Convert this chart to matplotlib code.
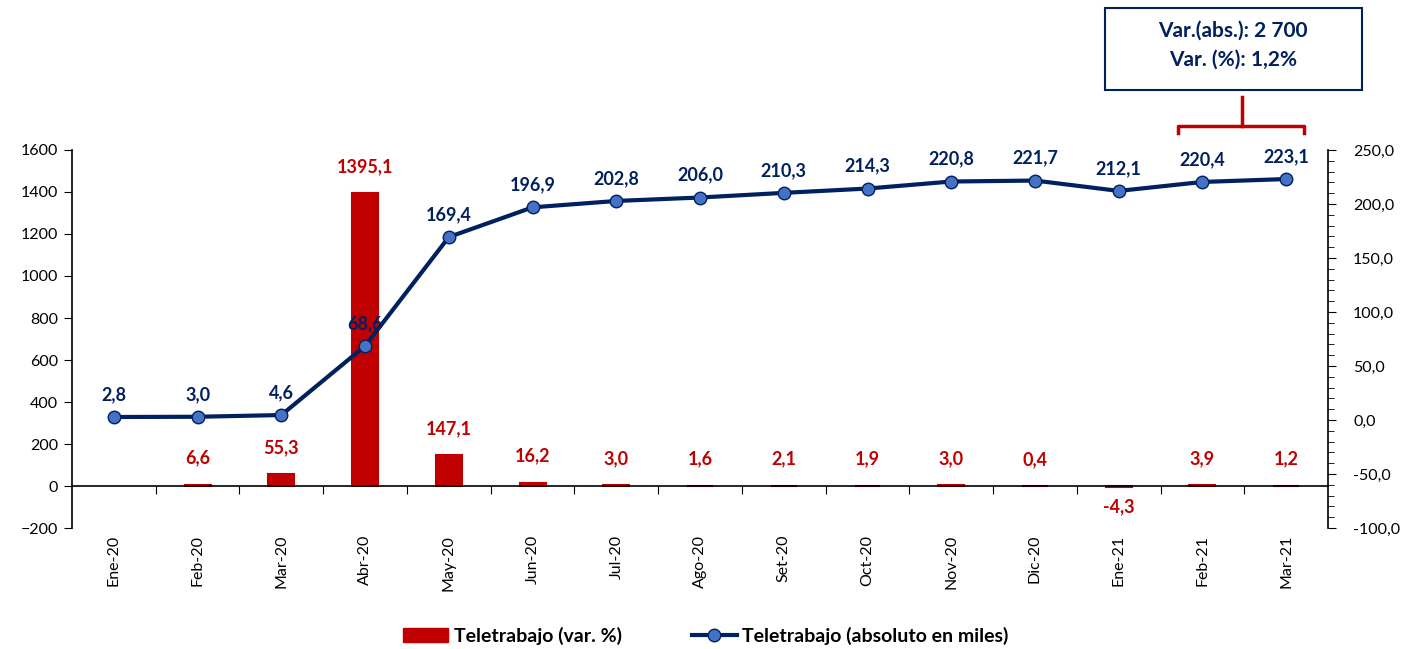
import matplotlib.pyplot as plt
import numpy as np
from matplotlib.lines import Line2D
from matplotlib.patches import Rectangle

plt.rcParams['font.family'] = ['Lato', 'DejaVu Sans']

months = ["Ene-20", "Feb-20", "Mar-20", "Abr-20", "May-20", "Jun-20", "Jul-20", "Ago-20",
          "Set-20", "Oct-20", "Nov-20", "Dic-20", "Ene-21", "Feb-21", "Mar-21"]
var_pct = [np.nan, 6.6, 55.3, 1395.1, 147.1, 16.2, 3.0, 1.6, 2.1, 1.9, 3.0, 0.4, -4.3, 3.9, 1.2]
abs_miles = [2.8, 3.0, 4.6, 68.6, 169.4, 196.9, 202.8, 206.0, 210.3, 214.3, 220.8, 221.7, 212.1, 220.4, 223.1]

red = "#C00000"
navy = "#002060"
blue = "#4472C4"

def fmt(v):
    return f"{v:.1f}".replace(".", ",")

fig = plt.figure(figsize=(14.04, 6.49), dpi=100)
ax = fig.add_axes([0.0513, 0.1864, 0.8946, 0.5825])
ax2 = ax.twinx()

x = np.arange(len(months))
ax.bar(x, var_pct, width=0.31, color=red, edgecolor=red, linewidth=1.5, zorder=2)
ax.set_xlim(-0.5, len(months) - 0.5)
ax.set_ylim(-200, 1600)
ax.set_yticks(range(-200, 1601, 200))
ax.tick_params(axis='y', direction='out', length=6, labelsize=11.5, pad=4)

for spine in ["top", "right"]:
    ax.spines[spine].set_visible(False)
ax.spines["bottom"].set_position(("data", 0))
ax.spines["left"].set_linewidth(1.2)
ax.spines["bottom"].set_linewidth(1.2)

# ticks between categories, labels at centers
ax.set_xticks(x[:-1] + 0.5)
ax.set_xticklabels([])
ax.tick_params(axis='x', which='major', direction='out', length=6)
ax.set_xticks(x, minor=True)
ax.set_xticklabels(months, minor=True, rotation=90, fontsize=11.5, va='top')
ax.tick_params(axis='x', which='minor', length=0, pad=35)

for xi, v in zip(x, var_pct):
    if np.isnan(v):
        continue
    if v >= 0:
        ax.annotate(fmt(v), (xi, v), xytext=(0, 13), textcoords='offset points',
                    ha='center', va='bottom', color=red, fontsize=13, fontweight='bold')
    else:
        ax.annotate(fmt(v), (xi, v), xytext=(0, -8), textcoords='offset points',
                    ha='center', va='top', color=red, fontsize=13, fontweight='bold')

ax2.plot(x, abs_miles, color=navy, lw=3, marker='o', markersize=9,
         markerfacecolor=blue, markeredgecolor=navy, markeredgewidth=1, zorder=3)
ax2.set_ylim(-100, 250)
ax2.set_yticks(range(-100, 251, 50))
ax2.set_yticklabels([fmt(v) for v in range(-100, 251, 50)])
ax2.set_yticks(range(-100, 251, 10), minor=True)
ax2.tick_params(axis='y', which='major', direction='out', length=6, labelsize=11.5, pad=12)
ax2.tick_params(axis='y', which='minor', direction='out', length=4)
for spine in ["top", "left", "bottom"]:
    ax2.spines[spine].set_visible(False)
ax2.spines["right"].set_linewidth(1.2)

for xi, v in zip(x, abs_miles):
    ax2.annotate(fmt(v), (xi, v), xytext=(0, 10), textcoords='offset points',
                 ha='center', va='bottom', color=navy, fontsize=13, fontweight='bold')

# annotation box and bracket
W, H = 1404, 649
fig.patches.append(Rectangle((1105 / W, 1 - 90 / H), 257 / W, 82 / H, transform=fig.transFigure,
                             fill=False, edgecolor=navy, lw=1.5))
fig.text(1233 / W, 1 - 31 / H, "Var.(abs.): 2 700", ha='center', va='center',
         color=navy, fontsize=15, fontweight='bold')
fig.text(1233 / W, 1 - 60 / H, "Var. (%): 1,2%", ha='center', va='center',
         color=navy, fontsize=15, fontweight='bold')
bx = [1178, 1178, 1304, 1304]
by = [133, 126, 126, 133]
fig.add_artist(Line2D([v / W for v in bx], [1 - v / H for v in by], color=red, lw=2.5,
                      transform=fig.transFigure))
fig.add_artist(Line2D([1242 / W, 1242 / W], [1 - 97 / H, 1 - 126 / H], color=red, lw=2.5,
                      transform=fig.transFigure))

handles = [Rectangle((0, 0), 1, 1, color=red),
           Line2D([], [], color=navy, lw=3, marker='o', markersize=9,
                  markerfacecolor=blue, markeredgecolor=navy)]
leg = fig.legend(handles, ["Teletrabajo (var. %)", "Teletrabajo (absoluto en miles)"],
                 loc='center', bbox_to_anchor=(706 / W, 1 - 636 / H), ncol=2, frameon=False,
                 prop={'weight': 'bold', 'size': 14}, handlelength=2.3, columnspacing=3.6,
                 handletextpad=0.3)

fig.savefig("out.png", dpi=100)
